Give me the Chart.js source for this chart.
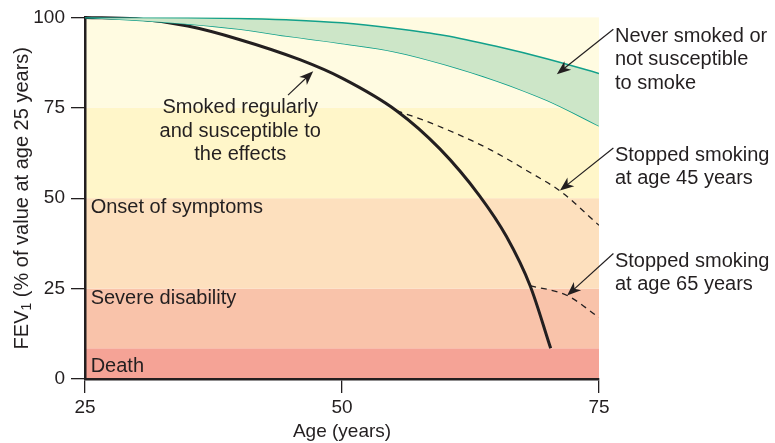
<!DOCTYPE html>
<html>
<head>
<meta charset="utf-8">
<script src="https://cdn.jsdelivr.net/npm/chart.js@4"></script>
<style>
  html, body { margin: 0; padding: 0; background: #fff; }
  #wrap { width: 775px; height: 443px; }
</style>
</head>
<body>
<div id="wrap"><canvas id="fevChart"></canvas></div>
<script>
// FEV1 decline with age, smokers vs non-smokers
const ink = '#231f20';
const fontFamily = '"Liberation Sans", Arial, Helvetica, sans-serif';

const ageTicks = [25, 50, 75];
const fevTicks = [0, 25, 50, 75, 100];

// never smoked / not susceptible (upper and lower edge of the green band)
const neverAges = [25, 30, 35, 40, 45, 50, 55, 60, 65, 70, 75];
const neverHigh = [100, 100, 99.9, 99.7, 99.3, 98.5, 97, 95, 92, 88.5, 84.5];
const neverLow = [100, 99.2, 98.2, 96.8, 94.7, 92.8, 90.6, 87, 82.5, 77, 70];

// smoked regularly and susceptible
const smokerAges = [25, 30, 35, 40, 45.9, 50, 55.3, 59.5, 63.4, 66, 68.3, 70.3];
const smokerFev = [100, 99.6, 97.6, 93.9, 88.3, 83.2, 74.2, 63.7, 50.6, 39.4, 25.8, 8.5];

// stopped smoking at 45 / at 65
const stop45Ages = [55.3, 58, 61, 64.5, 68, 71.3, 75];
const stop45Fev = [74.2, 71.5, 68, 63.3, 57.6, 51.8, 42.5];
const stop65Ages = [68.3, 71.9, 75];
const stop65Fev = [25.8, 23.1, 17];

// background bands
const bandFrom = [0, 8.5, 25, 50, 75];
const bandTo = [8.5, 25, 50, 75, 100];
const bandColors = ['#f5a396', '#f9c3aa', '#fde0be', '#fff6c9', '#fffbe1'];

// band captions
const bandLabels = ['Death', 'Severe disability', 'Onset of symptoms'];
const bandLabelFev = [3.5, 22.2, 47.4];
const bandLabelAge = 25.55;

// callouts: text, anchor (first line), arrow start and end
const calloutText = [
  ['Smoked regularly', 'and susceptible to', 'the effects'],
  ['Never smoked or', 'not susceptible', 'to smoke'],
  ['Stopped smoking', 'at age 45 years'],
  ['Stopped smoking', 'at age 65 years']
];
const calloutAlign = ['center', 'left', 'left', 'left'];
const calloutAge = [40.1, 76.55, 76.55, 76.55];
const calloutFev = [75.0, 94.8, 61.9, 32.6];
const arrowFrom = [[44.75, 78.5], [76.4, 96.7], [76.4, 63.9], [76.4, 34.7]];
const arrowTo = [[47.2, 85.1], [70.9, 84.3], [71.2, 52.1], [71.9, 23.1]];

function toPoints(xs, ys) {
  return xs.map((x, i) => ({ x: x, y: ys[i] }));
}

// coloured bands behind everything
const bandsPlugin = {
  id: 'bands',
  beforeDraw(chart) {
    const { ctx, chartArea, scales } = chart;
    ctx.save();
    bandFrom.forEach((lo, i) => {
      const yTop = scales.y.getPixelForValue(bandTo[i]);
      const yBot = scales.y.getPixelForValue(lo);
      ctx.fillStyle = bandColors[i];
      ctx.fillRect(chartArea.left, yTop, chartArea.right - chartArea.left, yBot - yTop);
    });
    ctx.restore();
  }
};

function drawArrow(ctx, x1, y1, x2, y2) {
  const ang = Math.atan2(y2 - y1, x2 - x1);
  const len = 14, half = 5.5;
  ctx.beginPath();
  ctx.moveTo(x1, y1);
  ctx.lineTo(x2 - Math.cos(ang) * 8, y2 - Math.sin(ang) * 8);
  ctx.stroke();
  ctx.save();
  ctx.translate(x2, y2);
  ctx.rotate(ang);
  ctx.beginPath();
  ctx.moveTo(0, 0);
  ctx.lineTo(-len, -half);
  ctx.lineTo(-len + 4, 0);
  ctx.lineTo(-len, half);
  ctx.closePath();
  ctx.fill();
  ctx.restore();
}

// band captions, callout text and arrows
const notesPlugin = {
  id: 'notes',
  afterDatasetsDraw(chart) {
    const { ctx, scales } = chart;
    const x = scales.x, y = scales.y;
    ctx.save();
    ctx.fillStyle = ink;
    ctx.strokeStyle = ink;
    ctx.font = '20px ' + fontFamily;
    ctx.textBaseline = 'middle';

    ctx.textAlign = 'left';
    bandLabels.forEach((txt, i) => {
      ctx.fillText(txt, x.getPixelForValue(bandLabelAge), y.getPixelForValue(bandLabelFev[i]));
    });

    calloutText.forEach((lines, i) => {
      ctx.textAlign = calloutAlign[i];
      const px = x.getPixelForValue(calloutAge[i]);
      const py = y.getPixelForValue(calloutFev[i]);
      lines.forEach((ln, j) => ctx.fillText(ln, px, py + j * 23.5));
    });

    ctx.lineWidth = 1.2;
    arrowFrom.forEach((p, i) => {
      drawArrow(ctx,
        x.getPixelForValue(p[0]), y.getPixelForValue(p[1]),
        x.getPixelForValue(arrowTo[i][0]), y.getPixelForValue(arrowTo[i][1]));
    });
    ctx.restore();
  }
};

// y axis title with subscript
const yTitlePlugin = {
  id: 'yTitle',
  afterDraw(chart) {
    const { ctx, chartArea } = chart;
    const big = '20px ' + fontFamily, small = '14px ' + fontFamily;
    const parts = [['FEV', big, 0], ['1', small, 5], [' (% of value at age 25 years)', big, 0]];
    ctx.save();
    let total = 0;
    parts.forEach(p => { ctx.font = p[1]; total += ctx.measureText(p[0]).width; });
    ctx.translate(22, (chartArea.top + chartArea.bottom) / 2);
    ctx.rotate(-Math.PI / 2);
    ctx.fillStyle = ink;
    ctx.textBaseline = 'middle';
    ctx.textAlign = 'left';
    let cx = -total / 2;
    parts.forEach(p => {
      ctx.font = p[1];
      ctx.fillText(p[0], cx, p[2]);
      cx += ctx.measureText(p[0]).width;
    });
    ctx.restore();
  }
};

const ctx = document.getElementById('fevChart').getContext('2d');
new Chart(ctx, {
  type: 'line',
  data: {
    datasets: [
      {
        label: 'Never smoked (upper)',
        data: toPoints(neverAges, neverHigh),
        borderColor: '#12a08b',
        borderWidth: 1.5,
        backgroundColor: '#cde6c8',
        fill: '+1',
        pointRadius: 0,
        cubicInterpolationMode: 'monotone'
      },
      {
        label: 'Never smoked (lower)',
        data: toPoints(neverAges, neverLow),
        borderColor: '#12a08b',
        borderWidth: 1.5,
        fill: false,
        pointRadius: 0,
        cubicInterpolationMode: 'monotone'
      },
      {
        label: 'Stopped at 45',
        data: toPoints(stop45Ages, stop45Fev),
        borderColor: ink,
        borderWidth: 1.3,
        borderDash: [6, 5],
        fill: false,
        pointRadius: 0,
        cubicInterpolationMode: 'monotone'
      },
      {
        label: 'Stopped at 65',
        data: toPoints(stop65Ages, stop65Fev),
        borderColor: ink,
        borderWidth: 1.3,
        borderDash: [6, 5],
        fill: false,
        pointRadius: 0,
        cubicInterpolationMode: 'monotone'
      },
      {
        label: 'Smoked regularly',
        data: toPoints(smokerAges, smokerFev),
        borderColor: ink,
        borderWidth: 3,
        fill: false,
        pointRadius: 0,
        cubicInterpolationMode: 'monotone',
        clip: 4
      }
    ]
  },
  options: {
    responsive: true,
    maintainAspectRatio: false,
    animation: false,
    layout: { padding: { top: 16, right: 176, left: 0, bottom: 0 } },
    plugins: {
      legend: { display: false },
      tooltip: { enabled: false }
    },
    scales: {
      x: {
        type: 'linear',
        min: 25,
        max: 75,
        afterBuildTicks: (scale) => { scale.ticks = ageTicks.map(v => ({ value: v })); },
        afterFit: (scale) => { scale.height = 64; },
        grid: { drawOnChartArea: false, tickLength: 14, color: ink, lineWidth: 1.3 },
        border: { display: true, width: 2.5, color: ink },
        ticks: { color: ink, padding: 3, font: { size: 19, family: fontFamily } },
        title: {
          display: true,
          text: 'Age (years)',
          color: ink,
          padding: { top: 0, bottom: 0 },
          font: { size: 19, family: fontFamily }
        }
      },
      y: {
        min: 0,
        max: 100,
        afterBuildTicks: (scale) => { scale.ticks = fevTicks.map(v => ({ value: v })); },
        afterFit: (scale) => { scale.width = 85; },
        grid: { drawOnChartArea: false, tickLength: 14, color: ink, lineWidth: 1.3 },
        border: { display: true, width: 2.5, color: ink },
        ticks: { color: ink, padding: 6, font: { size: 19, family: fontFamily } }
      }
    }
  },
  plugins: [bandsPlugin, notesPlugin, yTitlePlugin]
});
</script>
</body>
</html>
